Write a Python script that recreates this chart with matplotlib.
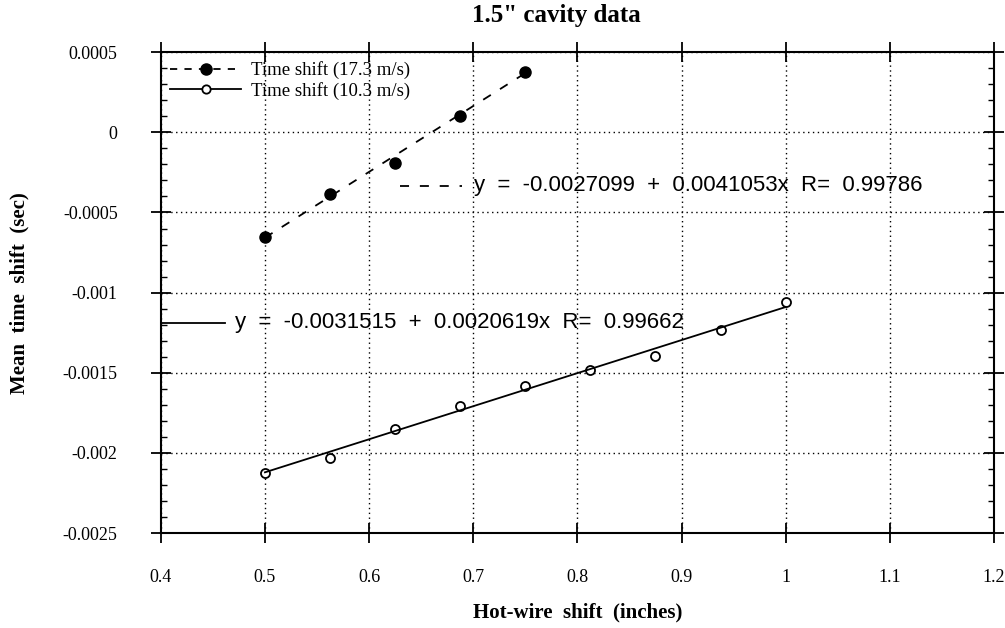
import numpy as np
import matplotlib
matplotlib.use('Agg')
import matplotlib.pyplot as plt
from matplotlib.ticker import AutoMinorLocator

# data
x_fast = [0.5, 0.5625, 0.625, 0.6875, 0.75]
y_fast = [-0.00065, -0.000383, -0.000189, 0.0001, 0.000375]
x_slow = [0.5, 0.5625, 0.625, 0.6875, 0.75, 0.8125, 0.875, 0.9375, 1.0]
y_slow = [-0.002125, -0.00203, -0.00185, -0.00171, -0.00158,
          -0.001485, -0.001396, -0.00123, -0.00106]

# fit coefficients printed on the chart
fit_fast = (-0.0027099, 0.0041053, 0.99786)
fit_slow = (-0.0031515, 0.0020619, 0.99662)

x_ticks = [0.4, 0.5, 0.6, 0.7, 0.8, 0.9, 1.0, 1.1, 1.2]
x_labels = ['0.4', '0.5', '0.6', '0.7', '0.8', '0.9', '1', '1.1', '1.2']
y_ticks = [0.0005, 0, -0.0005, -0.001, -0.0015, -0.002, -0.0025]
y_labels = ['0.0005', '0', '-0.0005', '-0.001', '-0.0015', '-0.002', '-0.0025']

serif = 'Liberation Serif'
sans = 'Liberation Sans'

fig = plt.figure(figsize=(10.05, 6.28), dpi=100)
ax = fig.add_axes([0.160, 0.151, 0.829, 0.766])

# data points
ax.plot(x_fast, y_fast, 'o', color='black', ms=8)
ax.plot(x_slow, y_slow, 'o', color='black', mfc='white', ms=6.5, mew=1.3)

# fit lines
xf = np.array([x_fast[0], x_fast[-1]])
ax.plot(xf, fit_fast[0] + fit_fast[1] * xf, color='black', lw=1.3, ls=(0, (5, 6)))
xs = np.array([x_slow[0], x_slow[-1]])
ax.plot(xs, fit_slow[0] + fit_slow[1] * xs, color='black', lw=1.3)

# legend
h1, = ax.plot([], [], color='black', ls=(0, (4, 4)), marker='o', ms=8, lw=1.3)
h2, = ax.plot([], [], color='black', marker='o', mfc='white', ms=6, mew=1.3, lw=1.3)
ax.legend([h1, h2], ['Time shift (17.3 m/s)', 'Time shift (10.3 m/s)'],
          loc='upper left', frameon=False, prop={'family': serif, 'size': 13.5},
          handlelength=3.8, handletextpad=0.5, labelspacing=0.12,
          borderaxespad=0.3, borderpad=0.2)

# equation annotations
ax.plot([0.287, 0.361], [0.722, 0.722], transform=ax.transAxes, color='black',
        lw=1.3, ls=(0, (5, 6)))
ax.text(0.376, 0.722, 'y  =  -0.0027099  +  0.0041053x  R=  %.5f' % fit_fast[2],
        transform=ax.transAxes, family=sans, fontsize=16, va='center', ha='left')
ax.plot([0.002, 0.0775], [0.437, 0.437], transform=ax.transAxes, color='black', lw=1.3)
ax.text(0.089, 0.437, 'y  =  -0.0031515  +  0.0020619x  R=  %.5f' % fit_slow[2],
        transform=ax.transAxes, family=sans, fontsize=16, va='center', ha='left')

# axes and ticks
ax.set_xlim(0.4, 1.2)
ax.set_ylim(-0.0025, 0.0005)
ax.set_xticks(x_ticks)
ax.set_xticklabels(x_labels, family=serif, fontsize=13)
ax.set_yticks(y_ticks)
ax.set_yticklabels(y_labels, family=serif, fontsize=13)
ax.yaxis.set_minor_locator(AutoMinorLocator(5))
ax.tick_params(which='major', direction='inout', length=14, width=1.3,
               top=True, right=True)
ax.tick_params(axis='x', which='major', pad=19)
ax.tick_params(axis='y', which='major', pad=24)
ax.tick_params(which='minor', direction='in', length=4, width=1,
               left=True, right=True)
for s in ax.spines.values():
    s.set_linewidth(1.5)
ax.grid(True, which='major', color='black', ls=(0, (1, 2.5)), lw=1.0)

ax.set_title('1.5" cavity data', family=serif, fontweight='bold', fontsize=18,
             x=0.475, pad=22)
ax.set_xlabel('Hot-wire  shift  (inches)', family=serif, fontweight='bold',
              fontsize=15, labelpad=12)
ax.set_ylabel('Mean  time  shift  (sec)', family=serif, fontweight='bold',
              fontsize=15, labelpad=24)

fig.savefig('out.png', dpi=100)
